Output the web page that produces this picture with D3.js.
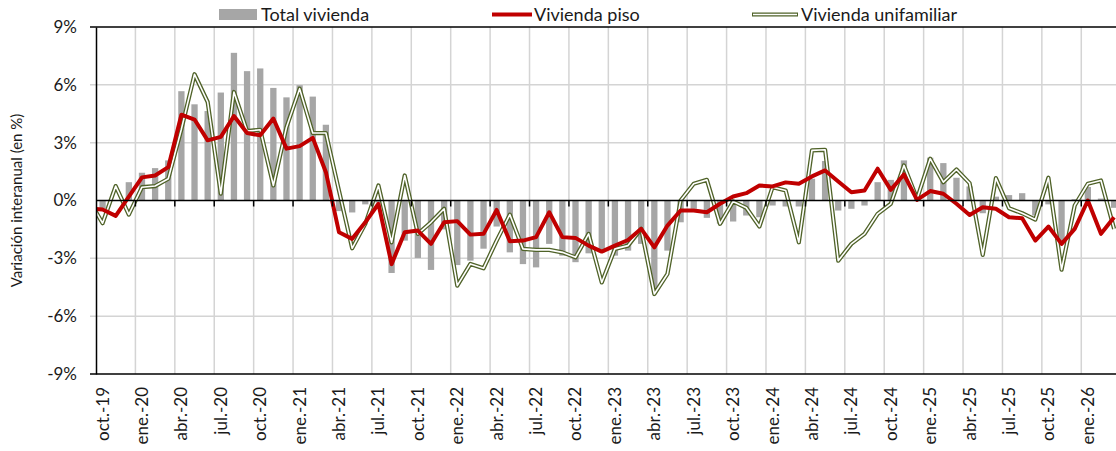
<!DOCTYPE html>
<html>
<head>
<meta charset="utf-8">
<script src="https://cdn.jsdelivr.net/npm/d3@7"></script>
<style>
  html, body { margin: 0; padding: 0; background: #fff; }
  svg { display: block; font-family: Lato, "Noto Sans", sans-serif; }
</style>
</head>
<body>
<script>
  // meses (sep-19 queda fuera del área visible, sólo se ve el inicio de las líneas)
  const months = [
    'sep-19', 'oct-19', 'nov-19', 'dic-19',
    'ene-20', 'feb-20', 'mar-20', 'abr-20', 'may-20', 'jun-20', 'jul-20', 'ago-20', 'sep-20', 'oct-20', 'nov-20', 'dic-20',
    'ene-21', 'feb-21', 'mar-21', 'abr-21', 'may-21', 'jun-21', 'jul-21', 'ago-21', 'sep-21', 'oct-21', 'nov-21', 'dic-21',
    'ene-22', 'feb-22', 'mar-22', 'abr-22', 'may-22', 'jun-22', 'jul-22', 'ago-22', 'sep-22', 'oct-22', 'nov-22', 'dic-22',
    'ene-23', 'feb-23', 'mar-23', 'abr-23', 'may-23', 'jun-23', 'jul-23', 'ago-23', 'sep-23', 'oct-23', 'nov-23', 'dic-23',
    'ene-24', 'feb-24', 'mar-24', 'abr-24', 'may-24', 'jun-24', 'jul-24', 'ago-24', 'sep-24', 'oct-24', 'nov-24', 'dic-24',
    'ene-25', 'feb-25', 'mar-25', 'abr-25', 'may-25', 'jun-25', 'jul-25', 'ago-25', 'sep-25', 'oct-25', 'nov-25', 'dic-25',
    'ene-26', 'feb-26', 'mar-26'
  ];

  const totalVivienda = [
    -0.2, -0.4, 0.0, 0.95,
    1.44, 1.68, 2.08, 5.67, 4.99, 4.64, 5.6, 7.66, 6.71, 6.85, 5.84, 5.35,
    5.98, 5.39, 3.93, -0.55, -0.62, -0.2, -0.1, -3.76, -2.08, -2.98, -3.6, -1.5,
    -3.35, -3.12, -2.5, -1.35, -2.69, -3.3, -3.47, -2.25, -2.86, -3.2, -2.74, -2.69,
    -2.86, -2.6, -2.25, -4.55, -2.6, -1.13, -0.43, -0.9, -1.2, -1.09, -0.78, -0.87,
    -0.26, -0.31, -0.31, 1.13, 2.05, -0.52, -0.43, -0.26, 0.95, 1.07, 2.08, 0.2,
    2.22, 1.94, 1.18, 0.73, -0.66, 0.2, 0.28, 0.38, -0.78, -0.2, -2.17, 0.07,
    0.7, 0.1, -0.38
  ];

  const viviendaPiso = [
    -0.4, -0.47, -0.8, 0.2,
    1.2, 1.3, 1.73, 4.45, 4.2, 3.12, 3.3, 4.38, 3.5, 3.38, 4.25, 2.69,
    2.82, 3.25, 1.47, -1.65, -1.99, -1.13, -0.17, -3.3, -1.65, -1.56, -2.25, -1.13,
    -1.07, -1.77, -1.73, -0.49, -2.11, -2.08, -1.9, -0.61, -1.9, -1.94, -2.34, -2.65,
    -2.34, -2.05, -1.47, -2.43, -1.3, -0.52, -0.52, -0.61, -0.17, 0.21, 0.38, 0.78,
    0.73, 0.94, 0.87, 1.25, 1.56, 0.99, 0.43, 0.52, 1.65, 0.55, 1.35, 0.03,
    0.49, 0.35, -0.17, -0.75, -0.35, -0.43, -0.87, -0.92, -2.08, -1.35, -2.25, -1.47,
    0.0, -1.73, -0.87
  ];

  const viviendaUnifamiliar = [
    0.0, -1.18, 0.75, -0.73,
    0.69, 0.75, 1.13, 3.7, 6.55, 5.11, 0.35, 5.63, 3.6, 3.67, 0.78, 3.8,
    5.8, 3.5, 3.5, 0.5, -2.48, -1.21, 0.78, -2.17, 1.3, -1.73, -1.13, -0.43,
    -4.42, -3.29, -3.52, -2.08, -0.73, -2.51, -2.56, -2.56, -2.69, -2.95, -1.73, -4.25,
    -2.51, -2.34, -1.47, -4.85, -3.81, 0.0, 0.87, 1.07, -1.21, -0.05, -0.38, -1.35,
    0.69, 0.52, -2.17, 2.6, 2.63, -3.12, -2.25, -1.73, -0.69, -0.17, 1.82, 0.09,
    2.17, 0.95, 1.61, 0.9, -2.82, 1.16, -0.4, -0.66, -0.99, 1.18, -3.59, -0.26,
    0.87, 1.04, -1.47
  ];

  const tickMonths = [
    'oct-19', 'ene-20', 'abr-20', 'jul-20', 'oct-20', 'ene-21', 'abr-21', 'jul-21', 'oct-21',
    'ene-22', 'abr-22', 'jul-22', 'oct-22', 'ene-23', 'abr-23', 'jul-23', 'oct-23',
    'ene-24', 'abr-24', 'jul-24', 'oct-24', 'ene-25', 'abr-25', 'jul-25', 'oct-25', 'ene-26'
  ];
  const tickLabels = [
    'oct.-19', 'ene.-20', 'abr.-20', 'jul.-20', 'oct.-20', 'ene.-21', 'abr.-21', 'jul.-21', 'oct.-21',
    'ene.-22', 'abr.-22', 'jul.-22', 'oct.-22', 'ene.-23', 'abr.-23', 'jul.-23', 'oct.-23',
    'ene.-24', 'abr.-24', 'jul.-24', 'oct.-24', 'ene.-25', 'abr.-25', 'jul.-25', 'oct.-25', 'ene.-26'
  ];
  const yTicks = [-9, -6, -3, 0, 3, 6, 9];

  const width = 1116;
  const height = 451;
  const plotLeft = 96, plotTop = 27, plotBottom = 374;
  const step = 13.137;

  const svg = d3.select('body').append('svg')
      .attr('width', width)
      .attr('height', height);

  const x = d3.scaleBand()
      .domain(months)
      .range([plotLeft - step, plotLeft + (months.length - 1) * step])
      .padding(0);

  const y = d3.scaleLinear()
      .domain([-9, 9])
      .range([plotBottom, plotTop]);

  const data = months.map((m, i) => ({
    m, total: totalVivienda[i], piso: viviendaPiso[i], uni: viviendaUnifamiliar[i]
  }));

  svg.append('defs').append('clipPath').attr('id', 'plot')
    .append('rect')
      .attr('x', plotLeft).attr('y', plotTop - 5)
      .attr('width', width - plotLeft + 10).attr('height', plotBottom - plotTop + 10);

  // rejilla horizontal
  svg.append('g')
    .selectAll('line')
    .data(yTicks.filter(d => Math.abs(d) !== 9 && d !== 0))
    .enter().append('line')
      .attr('x1', plotLeft - 6).attr('x2', width)
      .attr('y1', d => y(d)).attr('y2', d => y(d))
      .attr('stroke', '#d4d4d4').attr('stroke-width', 1.5);

  // rejilla vertical (trimestres)
  svg.append('g')
    .selectAll('line')
    .data(tickMonths.slice(1))
    .enter().append('line')
      .attr('x1', d => x(d)).attr('x2', d => x(d))
      .attr('y1', plotTop).attr('y2', plotBottom)
      .attr('stroke', '#d4d4d4').attr('stroke-width', 1.5);

  const plot = svg.append('g').attr('clip-path', 'url(#plot)');

  // barras: total vivienda
  const bw = 6.3;
  plot.append('g')
    .selectAll('rect')
    .data(data)
    .enter().append('rect')
      .attr('x', d => x(d.m) + (step - bw) / 2)
      .attr('width', bw)
      .attr('y', d => y(Math.max(0, d.total)))
      .attr('height', d => Math.abs(y(d.total) - y(0)))
      .attr('fill', '#a6a6a6');

  // eje del cero con marcas
  svg.append('line')
      .attr('x1', plotLeft).attr('x2', width)
      .attr('y1', y(0)).attr('y2', y(0))
      .attr('stroke', '#000').attr('stroke-width', 1.5);
  svg.append('g')
    .selectAll('line')
    .data(tickMonths.slice(1))
    .enter().append('line')
      .attr('x1', d => x(d)).attr('x2', d => x(d))
      .attr('y1', y(0)).attr('y2', y(0) + 6)
      .attr('stroke', '#000').attr('stroke-width', 1.5);

  const cx = d => x(d.m) + step / 2;

  // vivienda unifamiliar: línea doble
  const lineUni = d3.line().x(cx).y(d => y(d.uni));
  plot.append('path').datum(data)
      .attr('d', lineUni)
      .attr('fill', 'none')
      .attr('stroke', '#4f6228')
      .attr('stroke-width', 4.2)
      .attr('stroke-linejoin', 'round');
  plot.append('path').datum(data)
      .attr('d', lineUni)
      .attr('fill', 'none')
      .attr('stroke', '#fff')
      .attr('stroke-width', 1.6)
      .attr('stroke-linejoin', 'round');

  // vivienda piso
  plot.append('path').datum(data)
      .attr('d', d3.line().x(cx).y(d => y(d.piso)))
      .attr('fill', 'none')
      .attr('stroke', '#c00000')
      .attr('stroke-width', 4)
      .attr('stroke-linejoin', 'round');

  // marco del área de trazado
  svg.append('line')
      .attr('x1', plotLeft - 6).attr('x2', width)
      .attr('y1', plotTop).attr('y2', plotTop)
      .attr('stroke', '#000').attr('stroke-width', 1.5);
  svg.append('line')
      .attr('x1', plotLeft - 6).attr('x2', width)
      .attr('y1', plotBottom).attr('y2', plotBottom)
      .attr('stroke', '#000').attr('stroke-width', 1.5);

  // eje y
  const yAxis = svg.append('g')
      .attr('transform', `translate(${plotLeft},0)`)
      .call(d3.axisLeft(y).tickValues(yTicks).tickFormat(d => d + '%').tickSize(0).tickPadding(19));
  yAxis.select('.domain').attr('stroke', '#000').attr('stroke-width', 1.5);
  yAxis.selectAll('text')
      .attr('font-size', 17)
      .attr('font-family', 'Lato, "Noto Sans", sans-serif')
      .attr('fill', '#1a1a1a');

  // etiquetas del eje x
  svg.append('g')
    .selectAll('text')
    .data(tickMonths)
    .enter().append('text')
      .attr('transform', d => `translate(${x(d) + step / 2},387) rotate(-90)`)
      .attr('dy', '0.35em')
      .attr('text-anchor', 'end')
      .attr('font-size', 17)
      .attr('fill', '#1a1a1a')
      .text((d, i) => tickLabels[i]);

  // título del eje y
  svg.append('text')
      .attr('transform', `translate(17,${y(0)}) rotate(-90)`)
      .attr('dy', '0.35em')
      .attr('text-anchor', 'middle')
      .attr('font-size', 15)
      .attr('fill', '#1a1a1a')
      .text('Variación interanual (en %)');

  // leyenda
  const legend = svg.append('g').attr('font-size', 18).attr('fill', '#1a1a1a');
  legend.append('rect')
      .attr('x', 219).attr('y', 9).attr('width', 38).attr('height', 11)
      .attr('fill', '#a6a6a6');
  legend.append('text').attr('x', 261).attr('y', 21).text('Total vivienda');

  legend.append('line')
      .attr('x1', 492).attr('x2', 532).attr('y1', 14.5).attr('y2', 14.5)
      .attr('stroke', '#c00000').attr('stroke-width', 4);
  legend.append('text').attr('x', 534).attr('y', 21).text('Vivienda piso');

  legend.append('line')
      .attr('x1', 752).attr('x2', 798).attr('y1', 14.5).attr('y2', 14.5)
      .attr('stroke', '#4f6228').attr('stroke-width', 4.2);
  legend.append('line')
      .attr('x1', 753).attr('x2', 797).attr('y1', 14.5).attr('y2', 14.5)
      .attr('stroke', '#fff').attr('stroke-width', 1.6);
  legend.append('text').attr('x', 801).attr('y', 21).text('Vivienda unifamiliar');
</script>
</body>
</html>
